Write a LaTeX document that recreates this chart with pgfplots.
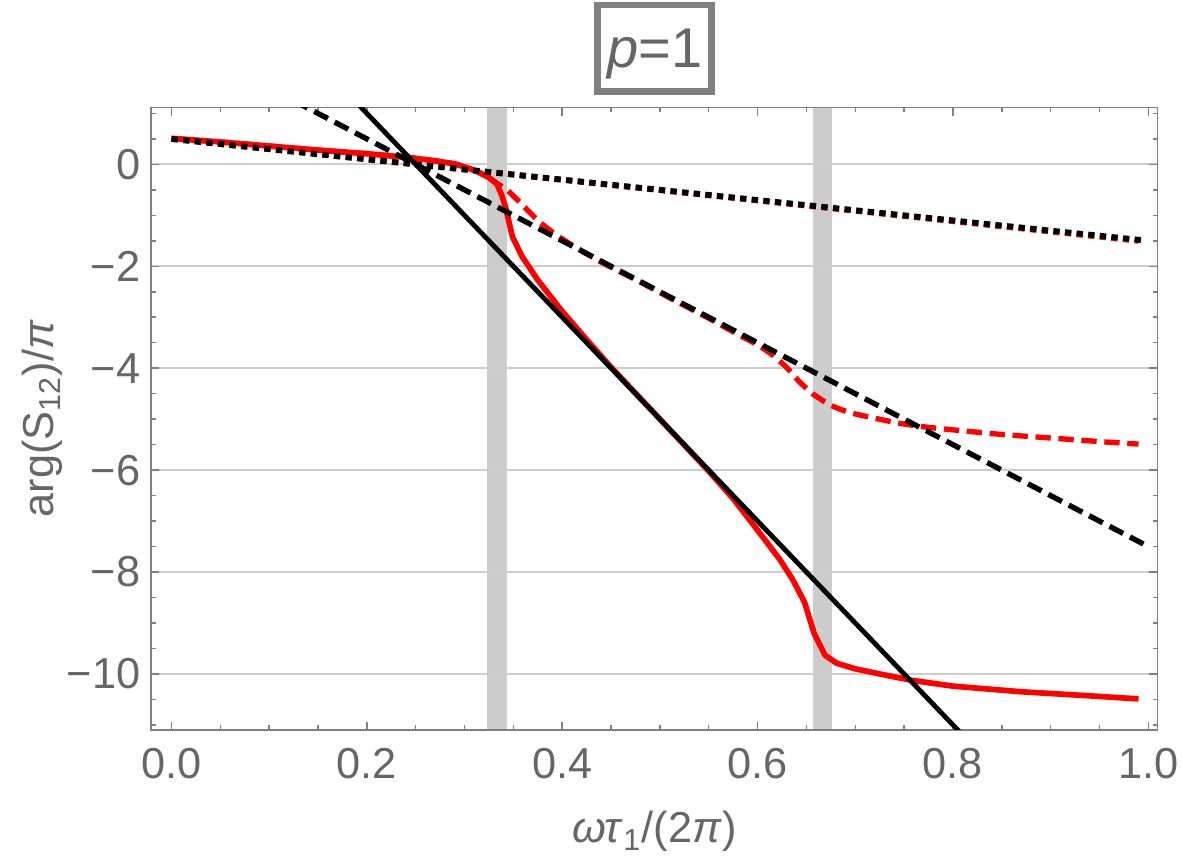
\documentclass[border=0pt]{standalone}
\usepackage{fontspec}
\setmainfont{Liberation Sans}
\usepackage{pgfplots}
\pgfplotsset{compat=1.18}

\definecolor{labelgray}{RGB}{102,102,102}
\definecolor{framegray}{RGB}{128,128,128}
\definecolor{gridgray}{RGB}{205,205,205}
\definecolor{bandgray}{RGB}{204,204,204}
\definecolor{boxgray}{RGB}{128,128,128}

% phase of S12 for p=1 (three orders), in units of pi
\pgfplotstableread{
x      y
0.000  0.51
0.050  0.44
0.100  0.36
0.150  0.28
0.200  0.21
0.240  0.14
0.270  0.07
0.290  0.01
0.305 -0.08
0.315 -0.16
0.325 -0.26
0.333 -0.38
0.338 -0.60
0.342 -0.84
0.349 -1.42
0.359 -1.81
0.375 -2.27
0.399 -2.86
0.425 -3.44
0.450 -3.98
0.500 -5.00
0.550 -6.02
0.575 -6.56
0.592 -6.98
0.608 -7.38
0.623 -7.76
0.636 -8.15
0.648 -8.59
0.658 -9.21
0.669 -9.63
0.681 -9.79
0.700 -9.90
0.725 -10.00
0.756 -10.12
0.800 -10.24
0.870 -10.35
0.940 -10.43
0.990 -10.49
}\phaseC

\pgfplotstableread{
x      y
0.000  0.51
0.050  0.44
0.100  0.36
0.150  0.28
0.200  0.21
0.240  0.14
0.270  0.07
0.290  0.01
0.305 -0.08
0.315 -0.16
0.325 -0.26
0.334 -0.38
0.344 -0.51
0.358 -0.77
0.375 -1.10
0.392 -1.36
0.413 -1.62
0.440 -1.92
0.480 -2.31
0.514 -2.66
0.550 -3.02
0.582 -3.36
0.600 -3.54
0.616 -3.75
0.630 -3.99
0.643 -4.27
0.657 -4.51
0.674 -4.72
0.694 -4.87
0.722 -4.99
0.745 -5.08
0.770 -5.15
0.800 -5.21
0.850 -5.30
0.900 -5.37
0.950 -5.44
0.990 -5.49
}\phaseB

\pgfplotstableread{
x      y
0.000  0.50
0.330 -0.16
0.660 -0.83
0.990 -1.50
}\phaseA

\begin{document}
\begin{tikzpicture}
\begin{axis}[
  at={(45.3pt,38.7pt)}, anchor=south west,
  scale only axis, width=302pt, height=186.8pt,
  set layers, clip mode=individual,
  xmin=-0.021, xmax=1.0096, ymin=-11.1, ymax=1.12,
  xtick={0,0.2,0.4,0.6,0.8,1},
  xticklabels={0.0,0.2,0.4,0.6,0.8,1.0},
  ytick={-10,-8,-6,-4,-2,0},
  yticklabels={−10,−8,−6,−4,−2,0},
  minor xtick={0,0.05,...,1.001},
  minor ytick={-11,-10.5,...,1.001},
  tick align=inside,
  major tick length=2.5pt, minor tick length=1.5pt,
  every tick/.style={framegray, line width=0.45pt},
  axis line style={framegray, line width=0.45pt},
  ymajorgrids,
  major grid style={gridgray, line width=0.6pt},
  tick label style={font=\fontsize{13}{15}\selectfont, color=labelgray},
  xticklabel style={anchor=north, inner sep=0pt, yshift=-5.4pt},
  yticklabel style={anchor=east, inner sep=0pt, xshift=-3pt},
  xlabel={\textit{ωτ}\textsubscript{1}/(2\textit{π})},
  ylabel={arg(S\textsubscript{12})/\textit{π}},
  every axis x label/.style={at={(axis description cs:0.5,-0.1815)}, anchor=base,
    font=\fontsize{13}{15}\selectfont, color=labelgray},
  every axis y label/.style={at={(axis description cs:-0.1083,0.5)}, anchor=center, rotate=90,
    font=\fontsize{13}{15}\selectfont, color=labelgray},
]

% shaded bands at the two resonances
\addplot[on layer=axis background, fill=bandgray, draw=none]
  coordinates {(0.3233,-11.1) (0.3433,-11.1) (0.3433,1.12) (0.3233,1.12)} -- cycle;
\addplot[on layer=axis background, fill=bandgray, draw=none]
  coordinates {(0.6567,-11.1) (0.6767,-11.1) (0.6767,1.12) (0.6567,1.12)} -- cycle;

% exact phases
\addplot[red, line width=1.75pt, line cap=butt, dash pattern=on 1.9pt off 1.6pt] table[x=x,y=y] {\phaseA};
\addplot[red, line width=1.6pt, line cap=butt, dash pattern=on 4.6pt off 2.3pt, smooth, tension=0.3] table[x=x,y=y] {\phaseB};
\addplot[red, line width=1.7pt, line join=round] table[x=x,y=y] {\phaseC};

% linear asymptotes through (0.25, 0)
\addplot[black, line width=1.75pt, line cap=butt, dash pattern=on 1.9pt off 1.6pt]
  coordinates {(0,0.5) (0.995,-1.49)};
\addplot[black, line width=1.6pt, line cap=butt, dash pattern=on 4.6pt off 2.3pt]
  coordinates {(0,2.5) (0.995,-7.45)};
\addplot[black, line width=1.45pt]
  coordinates {(0.15,2) (0.83,-11.6)};
\end{axis}

\node[draw=boxgray, line width=2pt, minimum width=34.3pt, minimum height=26pt,
      inner sep=0pt, text depth=0pt, text=labelgray,
      font=\fontsize{16.8}{18}\selectfont]
  at (196.4pt,243.2pt) {\textit{p}=1};

% page extent
\path (0,0) rectangle (354.6pt,257.7pt);
\end{tikzpicture}
\end{document}
